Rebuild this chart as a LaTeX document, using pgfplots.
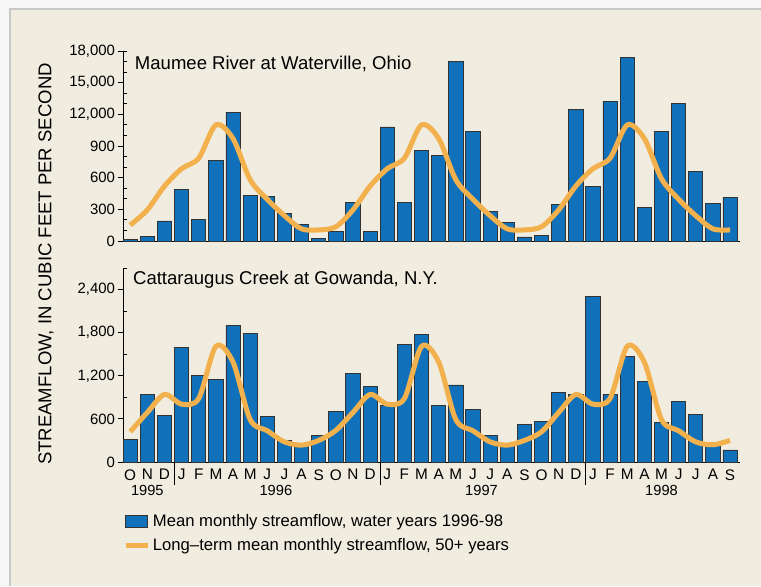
\documentclass[border=0pt]{standalone}
\usepackage{pgfplots}
\usepackage{pgfplotstable}
\pgfplotsset{compat=1.18}
\usepackage{fontspec}
\setmainfont{Liberation Sans}

\definecolor{bgbeige}{RGB}{240,236,223}
\definecolor{barblue}{RGB}{16,113,186}
\definecolor{ltorange}{RGB}{242,177,77}

% month index (Oct 1995 = 0), mean monthly flow, long-term mean
\pgfplotstableread{
m flow mean
0 150 1500
1 440 2950
2 1900 5200
3 4900 6850
4 2000 7850
5 7650 11000
6 12200 9700
7 4300 5800
8 4200 3950
9 2600 2400
10 1600 1150
11 280 1050
12 880 1350
13 3640 2950
14 880 5200
15 10800 6850
16 3640 7850
17 8600 11000
18 8100 9700
19 17000 5800
20 10400 3950
21 2760 2400
22 1750 1150
23 380 1050
24 530 1350
25 3450 2950
26 12450 5200
27 5170 6850
28 13250 7850
29 17430 11000
30 3200 9700
31 10340 5900
32 13000 3950
33 6580 2400
34 3570 1150
35 4140 1050
}\maumee

\pgfplotstableread{
m flow mean
0 310 420
1 940 690
2 650 940
3 1600 805
4 1205 885
5 1155 1610
6 1905 1390
7 1786 590
8 632 435
9 295 280
10 260 235
11 364 300
12 705 440
13 1232 690
14 1055 940
15 786 805
16 1632 885
17 1773 1610
18 782 1390
19 1073 590
20 732 435
21 368 280
22 236 235
23 527 300
24 568 420
25 973 690
26 936 940
27 2310 805
28 945 885
29 1468 1610
30 1123 1390
31 545 590
32 841 435
33 664 280
34 227 240
35 168 300
}\cattaraugus

\pgfplotsset{
  streamflow/.style={
    scale only axis, width=462.75pt,
    xmin=-0.42, xmax=35.58,
    axis x line*=bottom, axis y line*=left,
    axis line style={-, line width=0.6pt},
    tick align=outside, major tick length=4pt, minor tick length=3pt,
    tick style={black, line width=0.6pt},
    minor y tick style={xshift=3pt},
    yticklabel style={font=\fontsize{11.2}{12}\selectfont, xshift=1.5pt},
    xticklabel style={font=\fontsize{11.5}{12}\selectfont, yshift=2pt},
    scaled y ticks=false,
    clip=false,
  },
  bars/.style={ybar, bar width=0.83, fill=barblue, draw=black!80, line width=0.6pt},
  ltmean/.style={smooth, ltorange, line width=3.75pt, no marks},
}

\begin{document}
\begin{tikzpicture}
\fill[black!3] (0,0) rectangle (570.75pt,439.5pt);
\useasboundingbox (0,0) rectangle (570.75pt,439.5pt);
\fill[bgbeige] (7.5pt,0) rectangle (570.75pt,432.75pt);
\draw[black!22, line width=1pt] (7.5pt,0) -- (7.5pt,432.75pt) -- (570.75pt,432.75pt);

\node[rotate=90, font=\fontsize{13.9}{16}\selectfont] at (34.5pt,241.5pt)
  {STREAMFLOW, IN CUBIC FEET PER SECOND};

% Maumee River
\begin{axis}[streamflow, at={(92.25pt,258.75pt)}, anchor=south west, height=142.5pt,
  ymin=0, ymax=18000,
  ytick={0,3000,6000,9000,12000,15000,18000},
  yticklabels={0,300,600,900,{12,000},{15,000},{18,000}},
  minor ytick={1000,2000,4000,5000,7000,8000,10000,11000,13000,14000,16000,17000,18000},
  xtick=\empty,
  minor xtick={-0.42,0.58,...,35.58},
]
\addplot[bars] table[x=m, y=flow] {\maumee};
\addplot[ltmean] table[x=m, y=mean] {\maumee};
\node[anchor=base west, inner sep=0pt, font=\fontsize{13.9}{16}\selectfont]
  at (rel axis cs:0.019,0.905) {Maumee River at Waterville, Ohio};
\end{axis}

% Cattaraugus Creek
\begin{axis}[streamflow, at={(92.25pt,93pt)}, anchor=south west, height=145.5pt,
  ymin=0, ymax=2700,
  ytick={0,600,1200,1800,2400},
  yticklabels={0,600,{1,200},{1,800},{2,400}},
  minor ytick={300,900,1500,2100,2700},
  xtick={0,1,...,35},
  xticklabels={O,N,D,J,F,M,A,M,J,J,A,S,O,N,D,J,F,M,A,M,J,J,A,S,O,N,D,J,F,M,A,M,J,J,A,S},
  major x tick style={draw=none},
  legend style={draw=none, fill=none, anchor=north west, at={(-0.0065,-0.24)},
    font=\fontsize{12.5}{15}\selectfont, row sep=3.5pt},
  legend cell align=left,
]
\addplot[bars, legend image code/.code={\draw[fill=barblue, draw=black!80, line width=0.6pt] (0pt,-4.5pt) rectangle (16.5pt,4.5pt);}]
  table[x=m, y=flow] {\cattaraugus};
\addlegendentry{Mean monthly streamflow, water years 1996-98}
\addplot[ltmean, legend image code/.code={\draw[ltorange, line width=3.75pt] (0pt,0pt) -- (16.5pt,0pt);}]
  table[x=m, y=mean] {\cattaraugus};
\addlegendentry{Long--term mean monthly streamflow, 50+ years}
\node[anchor=base west, inner sep=0pt, font=\fontsize{13.9}{16}\selectfont]
  at (rel axis cs:0.016,0.917) {Cattaraugus Creek at Gowanda, N.Y.};
% year separators and year labels
\draw[line width=0.6pt] (axis cs:2.58,0) -- ++(0pt,-17pt);
\draw[line width=0.6pt] (axis cs:14.58,0) -- ++(0pt,-17pt);
\draw[line width=0.6pt] (axis cs:26.58,0) -- ++(0pt,-17pt);
\node[font=\fontsize{11}{12}\selectfont] at ([yshift=-21pt]axis cs:1,0) {1995};
\node[font=\fontsize{11}{12}\selectfont] at ([yshift=-21pt]axis cs:8.5,0) {1996};
\node[font=\fontsize{11}{12}\selectfont] at ([yshift=-21pt]axis cs:20.5,0) {1997};
\node[font=\fontsize{11}{12}\selectfont] at ([yshift=-21pt]axis cs:31,0) {1998};
\end{axis}
\end{tikzpicture}
\end{document}
